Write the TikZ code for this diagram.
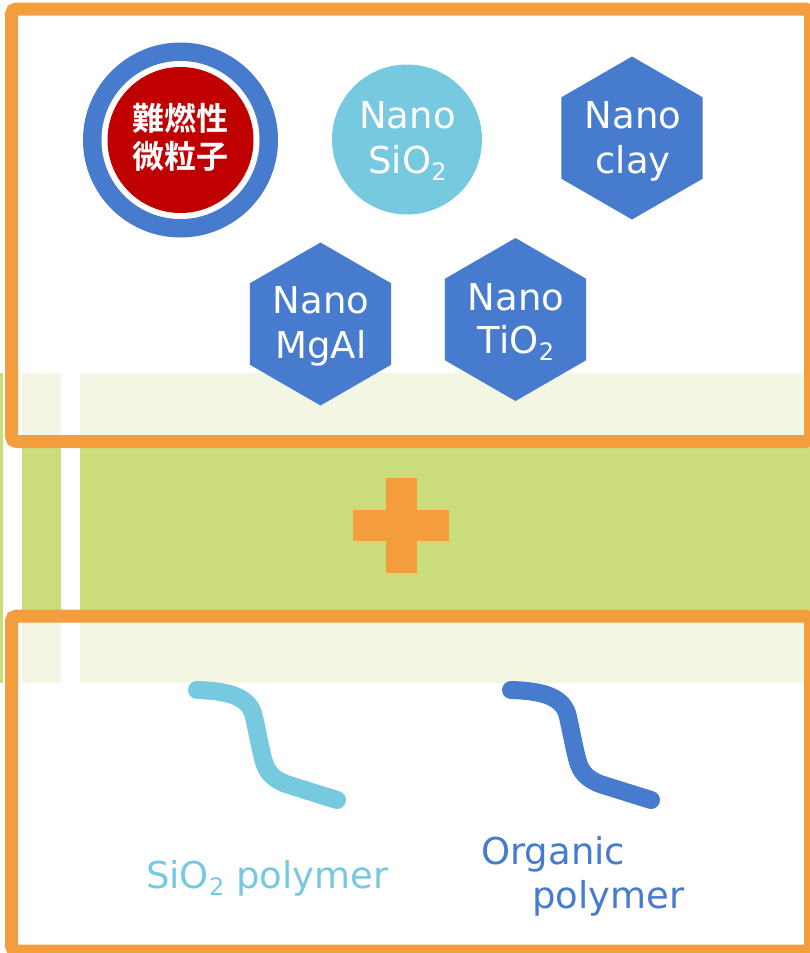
\documentclass[tikz,border=0pt]{standalone}
\usepackage{fontspec}
\setmainfont{DejaVu Sans}
\newfontfamily\cjk{Noto Sans CJK JP}[BoldFont={Noto Sans CJK JP Bold}]
\usetikzlibrary{shapes.geometric}

\definecolor{frameorange}{HTML}{F49D3D}
\definecolor{bandgreen}{HTML}{CBDC7A}
\definecolor{palegreen}{HTML}{F2F6E2}
\definecolor{nanoblue}{HTML}{477BCE}
\definecolor{skyblue}{HTML}{77C9E0}
\definecolor{firered}{HTML}{C00000}

% subscript two, lowered below the baseline
\newcommand\lowtwo{\raisebox{-7pt}{\fontsize{24}{24}\selectfont 2}}

\tikzset{
  frame/.style={draw=frameorange, line width=13pt, rounded corners=5pt},
  hexa/.style={regular polygon, regular polygon sides=6, shape border rotate=30,
               fill=nanoblue, draw=none, inner sep=0pt, minimum size=163pt},
  lbl/.style={text=white, inner sep=0pt, font=\fontsize{37}{37}\selectfont},
  jp/.style={text=white, inner sep=0pt, font=\cjk\bfseries\fontsize{32}{32}\selectfont},
  chain/.style={line width=18pt, line cap=round, line join=round},
  polylabel/.style={inner sep=0pt, font=\fontsize{37}{37}\selectfont},
}

\begin{document}
\begin{tikzpicture}[x=1pt, y=-1pt]
\useasboundingbox (0,0) rectangle (810,953);

% background bands
\fill[bandgreen] (0,373) rectangle (2.5,683);
\fill[palegreen] (22,373) rectangle (61,683);
\fill[palegreen] (80,373) rectangle (830,683);
\fill[bandgreen] (22,443) rectangle (61,614);
\fill[bandgreen] (80,443) rectangle (830,614);

% plus sign
\fill[frameorange] (386,478) rectangle (417,573);
\fill[frameorange] (353,510) rectangle (449,541);

% frames
\draw[frame] (11.5,9) rectangle (810.5,441.5);
\draw[frame] (11.5,616) rectangle (810.5,951);

% flame retardant particle
\node[circle, fill=nanoblue, minimum size=195pt, inner sep=0pt] (fr) at (180.5,140) {};
\node[circle, fill=white, minimum size=158pt, inner sep=0pt] (frgap) at (fr.center) {};
\node[circle, fill=firered, minimum size=146pt, inner sep=0pt] (frcore) at (fr.center) {};
\node[jp, anchor=base] (frA) at (180.5,130) {難燃性};
\node[jp, anchor=base] (frB) at (180.5,168) {微粒子};

% nano silica
\node[circle, fill=skyblue, minimum size=150pt, inner sep=0pt] (si) at (407,139.5) {};
\node[lbl, anchor=base] (siA) at (407.5,128) {Nano};
\node[lbl, anchor=base] (siB) at (407.5,173) {SiO\lowtwo};

% nano clay
\node[hexa] (clay) at (632,138) {};
\node[lbl, anchor=base] (clayA) at (633,128) {Nano};
\node[lbl, anchor=base] (clayB) at (633,173) {clay};

% nano MgAl
\node[hexa] (mg) at (320.5,324) {};
\node[lbl, anchor=base] (mgA) at (321,313) {Nano};
\node[lbl, anchor=base] (mgB) at (321,358) {MgAl};

% nano titania
\node[hexa] (ti) at (515.5,319.5) {};
\node[lbl, anchor=base] (tiA) at (516,310) {Nano};
\node[lbl, anchor=base] (tiB) at (516,353) {TiO\lowtwo};

% polymer chains
\draw[chain, skyblue] (197,690) .. controls (232,691) and (250,698) .. (254,717)
  .. controls (258,735) and (261,752) .. (264,762)
  .. controls (267,772) and (273,779) .. (286,784) -- (337,800);
\draw[chain, nanoblue, xshift=314pt] (197,690) .. controls (232,691) and (250,698) .. (254,717)
  .. controls (258,735) and (261,752) .. (264,762)
  .. controls (267,772) and (273,779) .. (286,784) -- (337,800);

\node[polylabel, text=skyblue, anchor=base west] (sipoly) at (146,888) {SiO\lowtwo\ polymer};
\node[polylabel, text=nanoblue, anchor=base west] (orgA) at (481,864) {Organic};
\node[polylabel, text=nanoblue, anchor=base west] (orgB) at (532,908) {polymer};
\end{tikzpicture}
\end{document}
